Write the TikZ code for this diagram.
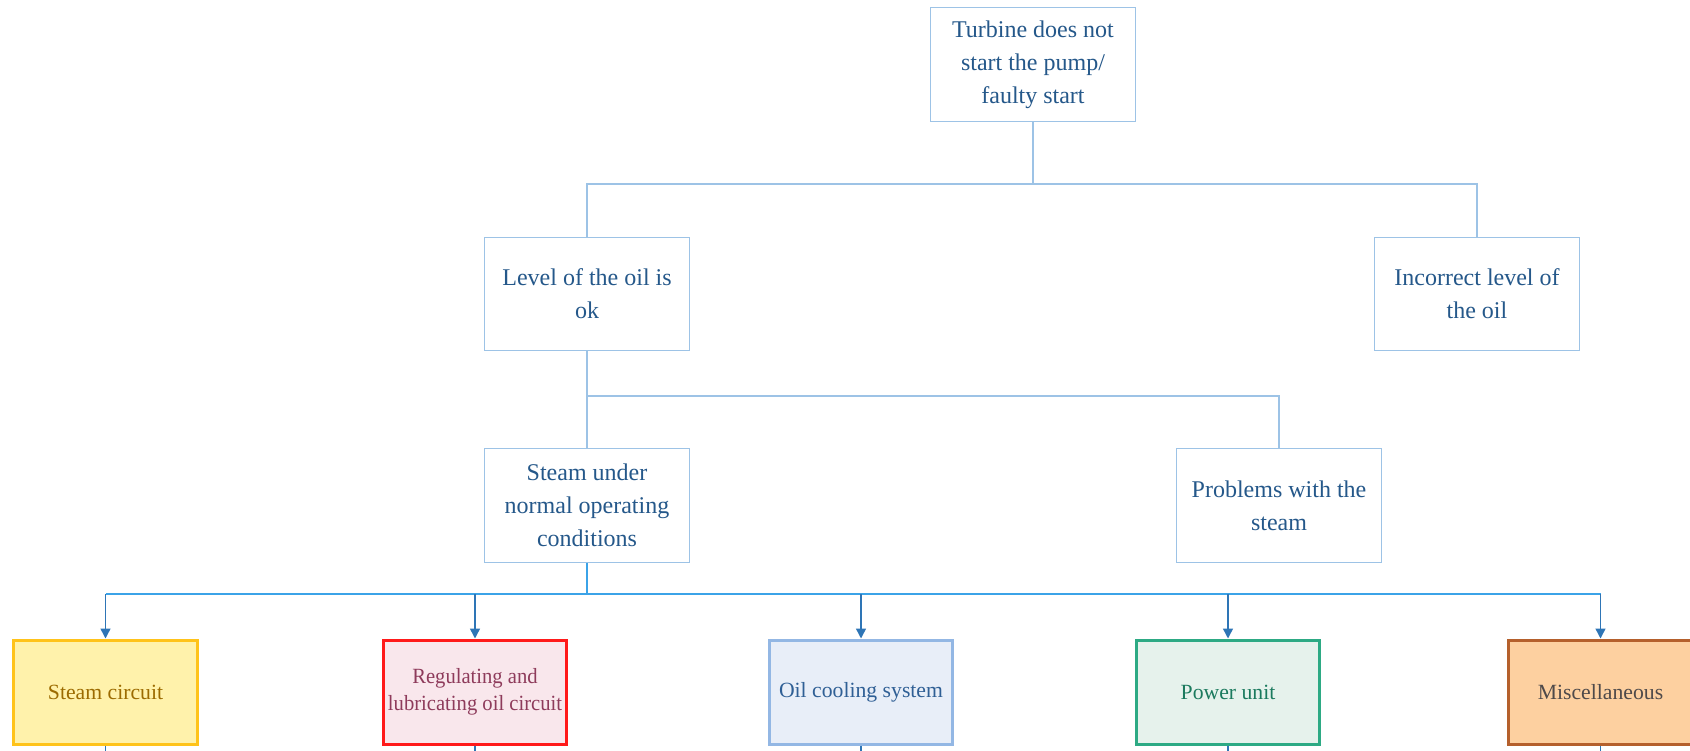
\documentclass[tikz,border=0pt]{standalone}
\usepackage{fontspec}
\setmainfont{Liberation Serif}
\newfontfamily\narrowserif[FakeStretch=0.95]{Liberation Serif}
\usetikzlibrary{arrows.meta}

% palette
\definecolor{linkblue}{HTML}{9DC3E6}
\definecolor{txtblue}{HTML}{25588A}
\definecolor{busblue}{HTML}{3BA3E8}
\definecolor{arrblue}{HTML}{2E75B6}
\definecolor{steamfill}{HTML}{FFF2AB}
\definecolor{steamdraw}{HTML}{FFC31A}
\definecolor{steamtext}{HTML}{9C6B00}
\definecolor{regfill}{HTML}{F9E7EC}
\definecolor{regdraw}{HTML}{FF1A1A}
\definecolor{regtext}{HTML}{8E3B5B}
\definecolor{oilfill}{HTML}{E8EEF8}
\definecolor{oildraw}{HTML}{93B7E4}
\definecolor{oiltext}{HTML}{2F5F95}
\definecolor{powfill}{HTML}{E6F2EC}
\definecolor{powdraw}{HTML}{2DAA84}
\definecolor{powtext}{HTML}{1B7A5E}
\definecolor{miscfill}{HTML}{FDD0A0}
\definecolor{miscdraw}{HTML}{B5602C}
\definecolor{misctext}{HTML}{4F4A4A}

\begin{document}
\begin{tikzpicture}[x=1pt,y=-1pt,
  upbox/.style={draw=linkblue, line width=1.4pt, fill=white,
    minimum width=204.5pt, minimum height=113.5pt, inner sep=0pt,
    align=center, text=txtblue,
    font=\fontsize{24}{33}\selectfont},
  leafbox/.style={line width=3pt, minimum width=183.5pt, minimum height=104pt,
    inner sep=0pt, align=center,
    font=\fontsize{21.7}{27}\selectfont},
  link/.style={draw=linkblue, line width=1.4pt},
  bus/.style={draw=busblue, line width=1.8pt},
  drop/.style={draw=arrblue, line width=1.5pt, -{Triangle[length=10pt,width=10pt]}},
  tail/.style={draw=arrblue, line width=1.5pt}]

\useasboundingbox (0,0) rectangle (1690,751);

% decision tree boxes
\node[upbox] (top)   at (1033,64.5)  {Turbine does not\\start the pump/\\faulty start};
\node[upbox] (lvl)   at (587,294)    {Level of the oil is\\ok};
\node[upbox] (inc)   at (1477,294)   {Incorrect level of\\the oil};
\node[upbox] (steam) at (587,505.5)  {Steam under\\normal operating\\conditions};
\node[upbox] (prob)  at (1279,505.5) {Problems with the\\steam};

% subsystem boxes
\node[leafbox, draw=steamdraw, fill=steamfill, text=steamtext] (l1) at (105.5,692) {Steam circuit};
\node[leafbox, draw=regdraw, fill=regfill, text=regtext,
      font=\narrowserif\fontsize{21.7}{27}\selectfont]           (l2) at (475,692)   {Regulating and\\lubricating oil circuit};
\node[leafbox, draw=oildraw, fill=oilfill, text=oiltext]       (l3) at (861,692)   {Oil cooling system};
\node[leafbox, draw=powdraw, fill=powfill, text=powtext]       (l4) at (1228,692)  {Power unit};
\node[leafbox, draw=miscdraw, fill=miscfill, text=misctext]    (l5) at (1600.5,692){Miscellaneous};

% junction points
\coordinate (j1) at (1033,184);
\coordinate (j2) at (587,396);
\coordinate (j3) at (587,594);
\coordinate (e1) at (105.5,751);
\coordinate (e2) at (475,751);
\coordinate (e3) at (861,751);
\coordinate (e4) at (1228,751);
\coordinate (e5) at (1600.5,751);

% tree connectors
\draw[link] (top.south) -- (j1);
\draw[link] (lvl.north) |- (j1) -| (inc.north);
\draw[link] (lvl.south) -- (steam.north);
\draw[link] (j2) -| (prob.north);
\draw[bus] (steam.south) -- (j3);
\draw[bus] (l1.north |- j3) -- (l5.north |- j3);

% arrows into the subsystem boxes
\foreach \n in {1,...,5}{
  \draw[drop] (l\n.north |- j3) -- (l\n.north);
  \draw[tail] (l\n.south) -- (e\n);
}
\end{tikzpicture}
\end{document}
